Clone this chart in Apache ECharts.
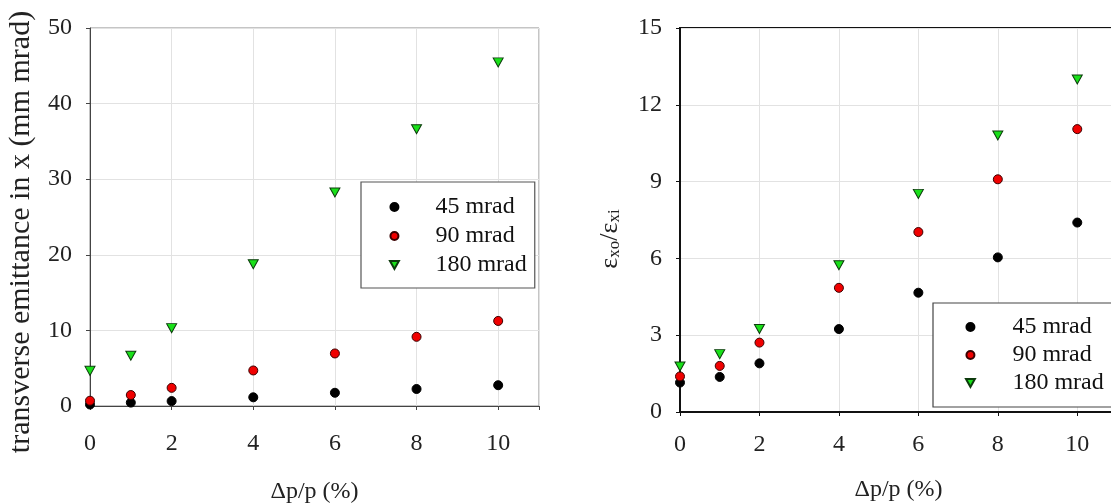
<!DOCTYPE html>
<html>
<head>
<meta charset="utf-8">
<script src="https://cdn.jsdelivr.net/npm/echarts@6/dist/echarts.min.js"></script>
<style>
	html, body { margin: 0; padding: 0; background: #fff; }
	#chart { width: 1111px; height: 503px; }
</style>
</head>
<body>
<div id="chart"></div>
<script>
var momentumSpread = [0, 1, 2, 4, 6, 8, 10]; // dp/p in %
var seriesNames = ['45 mrad', '90 mrad', '180 mrad'];

// left panel: transverse emittance in x (mm mrad)
var emit45 = [0.2, 0.45, 0.65, 1.15, 1.75, 2.25, 2.75];
var emit90 = [0.7, 1.45, 2.4, 4.7, 6.95, 9.15, 11.25];
var emit180 = [4.65, 6.65, 10.3, 18.75, 28.25, 36.6, 45.45];

// right panel: emittance ratio eps_xo / eps_xi
var ratio45 = [1.15, 1.37, 1.9, 3.24, 4.66, 6.04, 7.4];
var ratio90 = [1.39, 1.8, 2.71, 4.85, 7.03, 9.09, 11.05];
var ratio180 = [1.78, 2.26, 3.24, 5.73, 8.52, 10.8, 12.99];

var FONT = '"Liberation Serif", "DejaVu Serif", serif';
var TRIANGLE_DOWN = 'path://M0,0L10,0L5,9Z';

function pairs(ys) {
	return momentumSpread.map(function (x, i) { return [x, ys[i]]; });
}

var markers = [
	{ symbol: 'circle', size: 9, color: '#000000', border: '#000000' },
	{ symbol: 'circle', size: 9, color: '#f00000', border: '#3a0000' },
	{ symbol: TRIANGLE_DOWN, size: [10, 9], color: '#19e019', border: '#0c3a0c' }
];

function scatter(nameIdx, gridIdx, ys) {
	var m = markers[nameIdx];
	return {
		name: seriesNames[nameIdx],
		type: 'scatter',
		xAxisIndex: gridIdx,
		yAxisIndex: gridIdx,
		symbol: m.symbol,
		symbolSize: m.size,
		itemStyle: { color: m.color, borderColor: m.border, borderWidth: 1, opacity: 1 },
		data: pairs(ys),
		z: 3 + nameIdx
	};
}

function xAxisFor(gridIdx, lineColor, lineWidth, labelMargin, nameGap) {
	return {
		type: 'value',
		gridIndex: gridIdx,
		min: 0, max: 11, interval: 2,
		name: 'Δp/p (%)',
		nameLocation: 'middle',
		nameGap: nameGap,
		nameTextStyle: { fontFamily: FONT, fontSize: 24, color: '#222' },
		axisLine: { show: true, onZero: false, lineStyle: { color: lineColor, width: lineWidth } },
		axisTick: { show: true, inside: false, length: 4, lineStyle: { color: lineColor } },
		axisLabel: {
			margin: labelMargin,
			fontFamily: FONT, fontSize: 24, color: '#222',
			formatter: function (v) { return v > 10 ? '' : String(v); }
		},
		splitLine: { show: true, lineStyle: { color: '#e2e2e2', width: 1 } }
	};
}

function legendAt(left, top, gap, pad, padLeft, textPad, borderColor) {
	return {
		data: seriesNames,
		orient: 'vertical',
		left: left,
		top: top,
		itemWidth: 30,
		itemHeight: 8,
		itemGap: gap,
		padding: [pad[0], pad[1], pad[2], padLeft],
		borderColor: borderColor,
		borderWidth: 1.2,
		backgroundColor: '#fff',
		selectedMode: false,
		formatter: '{t|{name}}',
		textStyle: {
			fontFamily: FONT, fontSize: 24, color: '#111', lineHeight: 24,
			rich: { t: { fontFamily: FONT, fontSize: 24, color: '#111', lineHeight: 24, padding: [0, 0, 0, textPad] } }
		}
	};
}

var chart = echarts.init(document.getElementById('chart'), null, { renderer: 'canvas' });

var option = {
	backgroundColor: '#ffffff',
	animation: false,
	grid: [
		// keep the plot boxes where they are, labels may run to the edge
		{ left: 90, top: 28, right: 572, bottom: 97, outerBoundsMode: 'none', containLabel: false,
			show: true, borderColor: '#8a8a8a', borderWidth: 1 },
		{ left: 680, top: 28, width: 437, bottom: 91, outerBoundsMode: 'none', containLabel: false,
			show: true, borderColor: '#111', borderWidth: 2 }
	],
	legend: [
		legendAt(361, 182, 5, [13, 8, 11], 28, 21, '#555'),
		legendAt(933, 303, 4, [12, 30, 12], 32, 22, '#444')
	],
	xAxis: [
		xAxisFor(0, '#444', 1, 26, 74),
		xAxisFor(1, '#111', 2, 21, 66)
	],
	yAxis: [
		{
			type: 'value',
			gridIndex: 0,
			min: 0, max: 50, interval: 10,
			name: 'transverse emittance in x (mm mrad)',
			nameLocation: 'middle',
			nameRotate: 90,
			nameGap: 54,
			nameTextStyle: { fontFamily: FONT, fontSize: 30, color: '#222', padding: [0, 30, 0, 0] },
			axisLine: { show: true, onZero: false, lineStyle: { color: '#444', width: 1 } },
			axisTick: { show: true, length: 4, lineStyle: { color: '#444' } },
			axisLabel: { margin: 18, fontFamily: FONT, fontSize: 24, color: '#222' },
			splitLine: { show: true, lineStyle: { color: '#e2e2e2', width: 1 } }
		},
		{
			type: 'value',
			gridIndex: 1,
			min: 0, max: 15, interval: 3,
			name: '{a|ε}{b|xo}{a|/ε}{b|xi}',
			nameLocation: 'middle',
			nameRotate: 90,
			nameGap: 57,
			nameTextStyle: {
				fontFamily: FONT, fontSize: 26, color: '#222', padding: [0, 38, 0, 0],
				rich: {
					a: { fontFamily: FONT, fontSize: 26, color: '#222', lineHeight: 32, verticalAlign: 'bottom' },
					b: { fontFamily: FONT, fontSize: 17, color: '#222', lineHeight: 17, verticalAlign: 'bottom' }
				}
			},
			axisLine: { show: true, onZero: false, lineStyle: { color: '#111', width: 2 } },
			axisTick: { show: true, length: 4, lineStyle: { color: '#111' } },
			axisLabel: { margin: 18, fontFamily: FONT, fontSize: 24, color: '#222' },
			splitLine: { show: true, lineStyle: { color: '#e2e2e2', width: 1 } }
		}
	],
	series: [
		scatter(0, 0, emit45),
		scatter(1, 0, emit90),
		scatter(2, 0, emit180),
		scatter(0, 1, ratio45),
		scatter(1, 1, ratio90),
		scatter(2, 1, ratio180)
	]
};

chart.setOption(option);
</script>
</body>
</html>
